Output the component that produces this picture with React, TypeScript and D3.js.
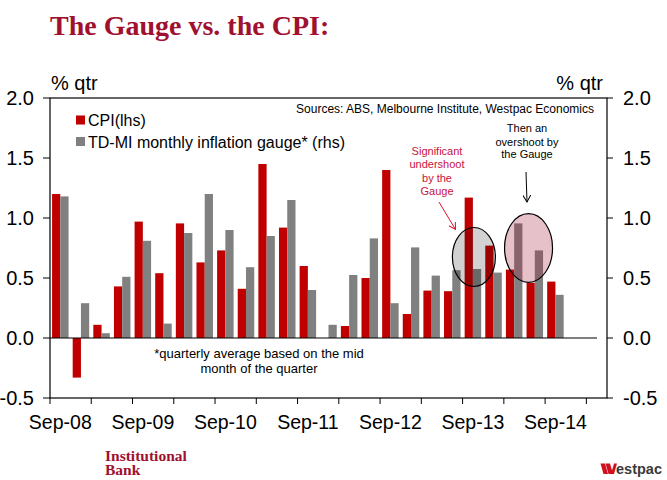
import * as React from 'react';
import * as d3 from 'd3';

// quarterly categories (last two slots are empty on the chart)
const quarters = [
  'Sep-08', 'Dec-08', 'Mar-09', 'Jun-09', 'Sep-09', 'Dec-09', 'Mar-10', 'Jun-10',
  'Sep-10', 'Dec-10', 'Mar-11', 'Jun-11', 'Sep-11', 'Dec-11', 'Mar-12', 'Jun-12',
  'Sep-12', 'Dec-12', 'Mar-13', 'Jun-13', 'Sep-13', 'Dec-13', 'Mar-14', 'Jun-14',
  'Sep-14', 'Dec-14', 'Mar-15'
];

// CPI, % qtr (lhs)
const cpi = [
  1.2, -0.33, 0.11, 0.43, 0.97, 0.54, 0.955, 0.63, 0.73, 0.41, 1.45, 0.92, 0.6,
  0.0, 0.1, 0.5, 1.4, 0.2, 0.395, 0.39, 1.17, 0.77, 0.57, 0.46, 0.47
];

// TD-MI gauge, % qtr (rhs)
const gauge = [
  1.18, 0.29, 0.04, 0.51, 0.81, 0.12, 0.875, 1.2, 0.9, 0.59, 0.85, 1.15, 0.4,
  0.11, 0.525, 0.83, 0.29, 0.755, 0.52, 0.565, 0.575, 0.545, 0.955, 0.73, 0.36
];

const yTicks = [-0.5, 0, 0.5, 1.0, 1.5, 2.0];
const xLabels = ['Sep-08', 'Sep-09', 'Sep-10', 'Sep-11', 'Sep-12', 'Sep-13', 'Sep-14'];

const W = 667;
const H = 480;
const left = 50;
const right = 607;
const top = 98;
const bottom = 398;

const RED = '#c00000';
const GREY = '#808080';
const DARKRED = '#a0112f';
const sans = '"Liberation Sans", Arial, sans-serif';
const serif = '"Liberation Serif", "Times New Roman", serif';

// plain hyphen for negatives, like the original
const fmt = (t: number) => d3.format('.1f')(t).replace('\u2212', '-');

export default function App() {
  const x = d3.scaleBand<string>().domain(quarters).range([left, right]).paddingInner(0).paddingOuter(0);
  const sub = d3.scaleBand<string>().domain(['cpi', 'gauge']).range([0, x.bandwidth()]).paddingInner(0).paddingOuter(0.25);
  const y = d3.scaleLinear().domain([-0.5, 2.0]).range([bottom, top]);

  const bar = (v: number, q: string, key: string, fill: string) => (
    <rect
      key={key + q}
      x={(x(q) as number) + (sub(key) as number)}
      y={y(Math.max(0, v))}
      width={sub.bandwidth()}
      height={Math.abs(y(v) - y(0))}
      fill={fill}
    />
  );

  const tickQs = quarters.filter((_, i) => i % 2 === 0);

  // ellipse positions, from the scales
  const e1x = (x('Sep-13') as number) + (sub('gauge') as number) + 1;
  const e2x = (x('Jun-14') as number) + (sub('cpi') as number) + 2;

  return (
    <svg width={W} height={H} style={{ position: 'absolute', left: 0, top: 0, background: '#fff' }}>
      <defs>
        <marker id="arrR" markerWidth="8" markerHeight="8" refX="7" refY="4" orient="auto" markerUnits="userSpaceOnUse">
          <path d="M0,0 L7,4 L0,8" fill="none" stroke="#e0102a" strokeWidth="1" />
        </marker>
        <marker id="arrK" markerWidth="8" markerHeight="8" refX="7" refY="4" orient="auto" markerUnits="userSpaceOnUse">
          <path d="M0,0 L7,4 L0,8" fill="none" stroke="#000" strokeWidth="1" />
        </marker>
      </defs>

      <text x={50} y={35} fontFamily={serif} fontWeight="bold" fontSize={28} fill={DARKRED}>
        The Gauge vs. the CPI:
      </text>

      <text x={51} y={90} fontFamily={sans} fontSize={20}>% qtr</text>
      <text x={603} y={90} fontFamily={sans} fontSize={20} textAnchor="end">% qtr</text>

      {/* bars */}
      {cpi.map((v, i) => bar(v, quarters[i], 'cpi', RED))}
      {gauge.map((v, i) => bar(v, quarters[i], 'gauge', GREY))}

      {/* zero line */}
      <line x1={left} x2={597} y1={y(0)} y2={y(0)} stroke="#000" strokeWidth={1.2} />

      {/* frame */}
      <rect x={left} y={top} width={right - left} height={bottom - top} fill="none" stroke="#000" strokeWidth={1.2} />

      {/* y ticks and labels */}
      {yTicks.map(t => (
        <g key={'y' + t}>
          <line x1={43} x2={left} y1={y(t)} y2={y(t)} stroke="#000" />
          <line x1={right} x2={613} y1={y(t)} y2={y(t)} stroke="#000" />
          <text x={34} y={y(t)} dy="0.36em" textAnchor="end" fontFamily={sans} fontSize={20}>{fmt(t)}</text>
          <text x={623} y={y(t)} dy="0.36em" fontFamily={sans} fontSize={20}>{fmt(t)}</text>
        </g>
      ))}

      {/* x ticks and labels */}
      {tickQs.map(q => (
        <line key={'t' + q} x1={x(q)} x2={x(q)} y1={bottom} y2={bottom + 6} stroke="#000" />
      ))}
      {xLabels.map(q => (
        <text key={'l' + q} x={(x(q) as number) + x.bandwidth() / 2} y={429} textAnchor="middle" fontFamily={sans} fontSize={19.5}>{q}</text>
      ))}

      {/* legend */}
      <rect x={76} y={115.5} width={9} height={9} fill={RED} />
      <text x={88} y={126} fontFamily={sans} fontSize={16}>CPI(lhs)</text>
      <rect x={76} y={137} width={9} height={9} fill={GREY} />
      <text x={88} y={148} fontFamily={sans} fontSize={16}>TD-MI monthly inflation gauge* (rhs)</text>

      <text x={594} y={113} textAnchor="end" fontFamily={sans} fontSize={12}>
        Sources: ABS, Melbourne Institute, Westpac Economics
      </text>

      <text x={259} y={358} textAnchor="middle" fontFamily={sans} fontSize={13}>*quarterly average based on the mid</text>
      <text x={259} y={373} textAnchor="middle" fontFamily={sans} fontSize={13}>month of the quarter</text>

      {/* highlight ellipses */}
      <ellipse cx={e1x} cy={y(0.675)} rx={21.5} ry={29.5} fill="#000" fillOpacity={0.18} stroke="#000" strokeWidth={1.2} />
      <ellipse cx={e2x} cy={y(0.75)} rx={24} ry={34.3} fill="#a6193a" fillOpacity={0.27} stroke="#000" strokeWidth={1.2} />

      {/* annotations */}
      <g fontFamily={sans} fontSize={11} textAnchor="middle" fill="#c8123c">
        <text x={437} y={155}>Significant</text>
        <text x={437} y={168.3}>undershoot</text>
        <text x={437} y={181.7}>by the</text>
        <text x={437} y={194.5}>Gauge</text>
      </g>
      <line x1={439} y1={202} x2={455.5} y2={229.5} stroke="#e0102a" strokeWidth={1} markerEnd="url(#arrR)" />

      <g fontFamily={sans} fontSize={11} textAnchor="middle" fill="#000">
        <text x={527} y={132.3}>Then an</text>
        <text x={527} y={145.7}>overshoot by</text>
        <text x={527} y={158.3}>the Gauge</text>
      </g>
      <line x1={526} y1={172} x2={527} y2={202} stroke="#000" strokeWidth={1} markerEnd="url(#arrK)" />

      {/* footer logos */}
      <text x={105} y={460.5} fontFamily={serif} fontWeight="bold" fontSize={15.5} fill={DARKRED}>Institutional</text>
      <text x={105} y={474.5} fontFamily={serif} fontWeight="bold" fontSize={15.5} fill={DARKRED}>Bank</text>

      <g fill="#d0101e">
        <polygon points="600.5,463.5 605,463.5 608,474 603.5,474" />
        <polygon points="605.5,463.5 610,463.5 613,474 608.5,474" />
        <polygon points="611,474 614,474 617,463.5 614,463.5" />
      </g>
      <text x={616} y={474} fontFamily={sans} fontWeight="bold" fontSize={14.5} fill="#3a3a3a">estpac</text>
    </svg>
  );
}
